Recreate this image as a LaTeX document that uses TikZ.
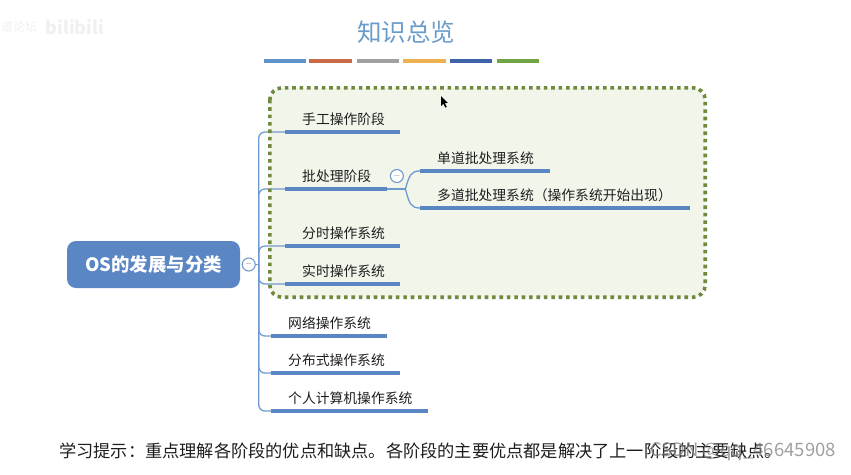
\documentclass[tikz,border=0pt]{standalone}
\usepackage{xcolor}
\usepackage{fontspec}
\setmainfont{Noto Sans CJK SC}
\usetikzlibrary{positioning, calc}
\definecolor{mapblue}{HTML}{5B86C4}
\definecolor{linkblue}{HTML}{6F9AD0}
\definecolor{titleblue}{HTML}{6A9CCB}
\definecolor{regionfill}{HTML}{F1F5EA}
\definecolor{regionline}{HTML}{6F8A3C}
\definecolor{inkdark}{HTML}{1E1E1E}
\definecolor{tabblue}{HTML}{5F93C9}
\definecolor{tabred}{HTML}{C8694A}
\definecolor{tabgray}{HTML}{A0A0A0}
\definecolor{tabyellow}{HTML}{EDB24F}
\definecolor{tabnavy}{HTML}{3F63A8}
\definecolor{tabgreen}{HTML}{6FA544}

\begin{document}
\begin{tikzpicture}[x=1pt, y=-1pt,
    rootbox/.style={rectangle, fill=mapblue, rounded corners=9pt, minimum width=173pt, minimum height=47pt, inner sep=0pt, text=white, font=\fontsize{18.4}{20}\selectfont\bfseries},
    minusdot/.style={circle, draw=linkblue, line width=1.1pt, fill=white, minimum size=13pt, inner sep=0pt, text=gray, font=\fontsize{9}{9}\selectfont},
    topic/.style={anchor=south west, inner sep=0pt, minimum height=25pt, text width=#1, align=left, text=inkdark, font=\fontsize{13.8}{16}\selectfont, execute at begin node={\hspace*{17pt}}},
    bar/.style={line width=3.2pt, draw=mapblue},
    link/.style={line width=1.3pt, draw=linkblue, rounded corners=6pt},
    tabline/.style={line width=3.4pt, draw=#1, preaction={draw=gray!45, transform canvas={yshift=-1.6pt}}},
    region/.style={rectangle, fill=regionfill, rounded corners=12pt, minimum width=435pt, minimum height=209pt, inner sep=0pt},
    regiondots/.style={draw=regionline, line width=3.6pt, dash pattern=on 3.6pt off 3.8pt, rounded corners=12pt}]

    \useasboundingbox (0,0) rectangle (851,474);

    % Title and colour tabs
    \node[text=titleblue, font=\fontsize{24.5}{28}\selectfont] (title) at (406,32) {知识总览};
    \coordinate (tabA) at (264,61);
    \coordinate (tabB) at (309,61);
    \coordinate (tabC) at (357,61);
    \coordinate (tabD) at (403,61);
    \coordinate (tabE) at (450,61);
    \coordinate (tabF) at (497,61);
    \draw[tabline=tabblue] (tabA) -- ++(42,0);
    \draw[tabline=tabred] (tabB) -- ++(43,0);
    \draw[tabline=tabgray] (tabC) -- ++(42,0);
    \draw[tabline=tabyellow] (tabD) -- ++(43,0);
    \draw[tabline=tabnavy] (tabE) -- ++(42,0);
    \draw[tabline=tabgreen] (tabF) -- ++(42,0);

    % Highlighted region
    \node[region] (zone) at (487.5,192.5) {};

    % Root with its collapse mark
    \node[rootbox] (root) at (153.5,264.5) {OS的发展与分类};
    \node[minusdot, right=1.5pt of root] (rootminus) {$-$};
    \coordinate[right=3pt of rootminus] (trunk);

    % Stages
    \node[topic=115pt] (manual) at (285,132) {手工操作阶段};
    \node[topic=102pt] (batch) at (285,189) {批处理阶段};
    \node[topic=115pt] (timeshare) at (285,246) {分时操作系统};
    \node[topic=115pt] (realtime) at (285,284) {实时操作系统};
    \node[topic=116pt] (network) at (271,336) {网络操作系统};
    \node[topic=129pt] (distributed) at (271,373) {分布式操作系统};
    \node[topic=157pt] (personal) at (271,411) {个人计算机操作系统};

    % Batch children
    \node[topic=130pt] (single) at (420,171) {单道批处理系统};
    \node[topic=270pt] (multi) at (420,208) {多道批处理系统（操作系统开始出现）};
    \node[minusdot, above right=8pt and 4.5pt of batch.south east] (batchminus) {$-$};
    \coordinate[right=18pt of batch.south east] (fork);

    % Links from the root
    \draw[link] (rootminus.east) -- (trunk);
    \draw[link] (trunk) |- (manual.south west);
    \draw[link] (trunk) |- (batch.south west);
    \draw[link] (trunk) |- (timeshare.south west);
    \draw[link] (trunk) |- (realtime.south west);
    \draw[link] (trunk) |- (network.south west);
    \draw[link] (trunk) |- (distributed.south west);
    \draw[link] (trunk) |- (personal.south west);

    % Links to the batch children
    \draw[link] (batch.south east) -- (fork);
    \draw[link] (fork) .. controls ($(fork)+(4,-14)$) and ($(single.south west)+(-9,0)$) .. (single.south west);
    \draw[link] (fork) .. controls ($(fork)+(4,15)$) and ($(multi.south west)+(-9,0)$) .. (multi.south west);

    % Thick underlines
    \draw[bar] (manual.south west) -- (manual.south east);
    \draw[bar] (batch.south west) -- (batch.south east);
    \draw[bar] (timeshare.south west) -- (timeshare.south east);
    \draw[bar] (realtime.south west) -- (realtime.south east);
    \draw[bar] (network.south west) -- (network.south east);
    \draw[bar] (distributed.south west) -- (distributed.south east);
    \draw[bar] (personal.south west) -- (personal.south east);
    \draw[bar] (single.south west) -- (single.south east);
    \draw[bar] (multi.south west) -- (multi.south east);

    % Dotted outline over the links
    \draw[regiondots] (zone.north west) rectangle (zone.south east);

    % Mouse pointer
    \coordinate (pointer) at (441,96);
    \fill[black] (pointer) -- ++(0,10) -- ++(2.4,-2.2) -- ++(2,3.8) -- ++(1.4,-0.8) -- ++(-2,-3.6) -- ++(3,-0.3) -- cycle;

    % Hint line and watermarks
    \node[anchor=west, inner sep=0pt, text=inkdark, font=\fontsize{17.2}{20}\selectfont] (hint) at (59,451) {学习提示：重点理解各阶段的优点和缺点。各阶段的主要优点都是解决了上一阶段的主要缺点。};
    \node[anchor=east, inner sep=0pt, text=gray, opacity=0.75, font=\fontsize{18.5}{20}\selectfont] (markcsdn) at (836,452) {CSDN @qq\_46645908};
    \node[anchor=west, inner sep=0pt, text=gray!12, font=\fontsize{12}{14}\selectfont] (markname) at (1,27) {道论坛};
    \node[right=8pt of markname, inner sep=0pt, text=gray!12, font=\fontsize{18}{20}\selectfont\bfseries] (marksite) {bilibili};

\end{tikzpicture}
\end{document}
